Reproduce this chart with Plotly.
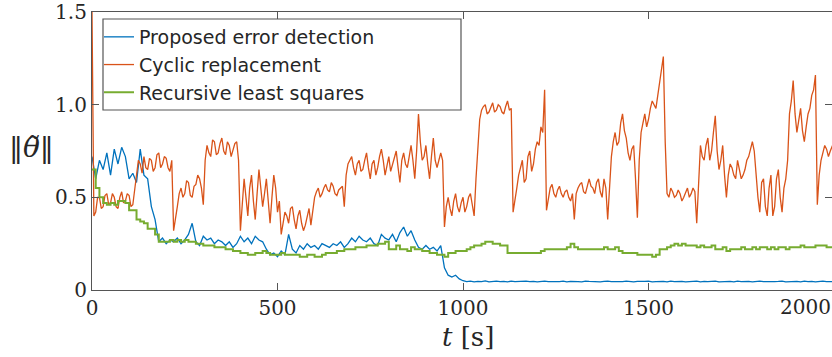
import plotly.graph_objects as go

# time axes [s]
t = list(range(0, 2001, 10))       # 10 s sampling (proposed, RLS)
t_fine = list(range(0, 2001, 5))   # 5 s sampling (cyclic replacement)

# Proposed error detection
proposed = [
    0.72, 0.60, 0.70, 0.65, 0.74, 0.62, 0.76, 0.68, 0.77, 0.72,
    0.60, 0.63, 0.58, 0.76, 0.62, 0.60, 0.45, 0.38, 0.26, 0.28,
    0.25, 0.27, 0.26, 0.28, 0.25, 0.27, 0.30, 0.36, 0.26, 0.24,
    0.29, 0.27, 0.28, 0.25, 0.27, 0.26, 0.24, 0.26, 0.23, 0.25,
    0.29, 0.26, 0.28, 0.25, 0.29, 0.27, 0.26, 0.22, 0.19, 0.20,
    0.18, 0.21, 0.19, 0.30, 0.22, 0.20, 0.24, 0.22, 0.25, 0.23,
    0.24, 0.22, 0.25, 0.24, 0.23, 0.25, 0.24, 0.26, 0.23, 0.25,
    0.28, 0.26, 0.29, 0.27, 0.26, 0.28, 0.25, 0.24, 0.30, 0.28,
    0.27, 0.30, 0.26, 0.31, 0.34, 0.29, 0.32, 0.27, 0.23, 0.22,
    0.24, 0.22, 0.23, 0.21, 0.24, 0.12, 0.08, 0.07, 0.08, 0.06,
    0.050, 0.045, 0.048, 0.044, 0.047, 0.045, 0.049, 0.044, 0.046, 0.048,
    0.045, 0.047, 0.044, 0.048, 0.045, 0.046, 0.044, 0.048, 0.045, 0.047,
    0.044, 0.046, 0.048, 0.045, 0.044, 0.047, 0.045, 0.048, 0.044, 0.046,
    0.047, 0.045, 0.044, 0.048, 0.046, 0.045, 0.047, 0.044, 0.046, 0.048,
    0.045, 0.044, 0.047, 0.045, 0.048, 0.046, 0.044, 0.047, 0.045, 0.046,
    0.048, 0.044, 0.045, 0.047, 0.046, 0.044, 0.048, 0.045, 0.046, 0.047,
    0.044, 0.046, 0.045, 0.048, 0.044, 0.047, 0.045, 0.046, 0.048, 0.044,
    0.045, 0.047, 0.046, 0.044, 0.048, 0.045, 0.046, 0.047, 0.044, 0.046,
    0.048, 0.045, 0.044, 0.047, 0.045, 0.046, 0.048, 0.044, 0.045, 0.047,
    0.046, 0.044, 0.048, 0.045, 0.047, 0.044, 0.046, 0.048, 0.045, 0.046,
    0.045,
]

# Cyclic replacement (5 s sampling)
cyclic = [
    1.50,
    0.40, 0.42, 0.50, 0.50, 0.44, 0.45, 0.51, 0.52, 0.46, 0.47, 0.52, 0.50, 0.45, 0.44, 0.50, 0.53, 0.47, 0.48, 0.52, 0.51,
    0.45, 0.46, 0.55, 0.62, 0.70, 0.68, 0.63, 0.72, 0.66, 0.65, 0.71, 0.70, 0.64, 0.66, 0.73, 0.74, 0.66, 0.68, 0.72, 0.71,
    0.66, 0.64, 0.70, 0.32, 0.40, 0.45, 0.52, 0.55, 0.50, 0.52, 0.59, 0.58, 0.51, 0.50, 0.56, 0.57, 0.62, 0.60, 0.55, 0.46,
    0.70, 0.78, 0.74, 0.72, 0.81, 0.80, 0.73, 0.74, 0.79, 0.82, 0.75, 0.73, 0.80, 0.78, 0.72, 0.75, 0.79, 0.80, 0.70, 0.32,
    0.45, 0.60, 0.50, 0.40, 0.55, 0.62, 0.48, 0.38, 0.52, 0.65, 0.55, 0.45, 0.52, 0.60, 0.48, 0.36, 0.50, 0.62, 0.55, 0.42,
    0.48, 0.30, 0.36, 0.42, 0.40, 0.36, 0.44, 0.45, 0.38, 0.33, 0.40, 0.43, 0.36, 0.32, 0.35, 0.40, 0.44, 0.35, 0.42, 0.50,
    0.53, 0.55, 0.50, 0.52, 0.55, 0.57, 0.54, 0.53, 0.58, 0.56, 0.52, 0.51, 0.54, 0.55, 0.56, 0.45, 0.62, 0.68, 0.70, 0.72,
    0.66, 0.62, 0.68, 0.70, 0.64, 0.65, 0.70, 0.74, 0.66, 0.60, 0.68, 0.70, 0.62, 0.66, 0.72, 0.76, 0.70, 0.62, 0.67, 0.72,
    0.64, 0.68, 0.72, 0.75, 0.66, 0.58, 0.70, 0.74, 0.68, 0.66, 0.72, 0.78, 0.70, 0.60, 0.75, 0.95, 0.80, 0.70, 0.72, 0.78,
    0.68, 0.60, 0.72, 0.82, 0.70, 0.66, 0.70, 0.74, 0.70, 0.34, 0.45, 0.50, 0.44, 0.40, 0.48, 0.52, 0.45, 0.42, 0.47, 0.50,
    0.42, 0.45, 0.50, 0.52, 0.46, 0.40, 0.60, 0.80, 0.92, 0.97, 0.99, 1.00, 0.95, 0.96, 0.99, 1.01, 0.96, 0.97, 1.00, 0.99,
    0.96, 0.95, 0.99, 1.02, 0.97, 0.98, 0.42, 0.50, 0.55, 0.62, 0.66, 0.70, 0.58, 0.60, 0.72, 0.75, 0.64, 0.68, 0.76, 0.80,
    0.78, 0.88, 0.85, 1.08, 0.43, 0.50, 0.55, 0.57, 0.52, 0.50, 0.54, 0.56, 0.52, 0.50, 0.53, 0.54, 0.50, 0.48, 0.52, 0.38,
    0.52, 0.55, 0.57, 0.58, 0.53, 0.52, 0.57, 0.60, 0.56, 0.55, 0.52, 0.58, 0.60, 0.53, 0.50, 0.60, 0.55, 0.38, 0.55, 0.72,
    0.80, 0.85, 0.78, 0.80, 0.90, 0.95, 0.86, 0.82, 0.74, 0.70, 0.76, 0.78, 0.60, 0.39, 0.70, 0.85, 0.90, 0.95, 0.88, 0.92,
    0.98, 1.02, 1.00, 0.98, 1.05, 1.12, 1.18, 1.26, 0.80, 0.52, 0.50, 0.55, 0.53, 0.50, 0.51, 0.54, 0.52, 0.48, 0.50, 0.53,
    0.55, 0.50, 0.52, 0.55, 0.53, 0.36, 0.60, 0.78, 0.72, 0.70, 0.78, 0.82, 0.70, 0.75, 0.85, 0.94, 0.75, 0.65, 0.70, 0.78,
    0.62, 0.50, 0.62, 0.68, 0.66, 0.62, 0.60, 0.70, 0.65, 0.60, 0.62, 0.65, 0.70, 0.72, 0.76, 0.80, 0.75, 0.62, 0.50, 0.42,
    0.58, 0.60, 0.45, 0.40, 0.55, 0.62, 0.40, 0.45, 0.60, 0.65, 0.50, 0.42, 0.55, 0.60, 0.70, 0.95, 1.02, 1.13, 0.95, 0.85,
    0.92, 0.98, 0.86, 0.80, 0.88, 0.95, 0.98, 1.05, 1.08, 1.16, 0.46, 0.62, 0.70, 0.74, 0.78, 0.76, 0.72, 0.75, 0.78, 0.80,
]

# Recursive least squares
rls = [
    0.65, 0.55, 0.50, 0.47, 0.46, 0.47, 0.46, 0.48, 0.48, 0.47,
    0.43, 0.43, 0.38, 0.37, 0.36, 0.33, 0.33, 0.30, 0.26, 0.26,
    0.26, 0.27, 0.26, 0.27, 0.26, 0.27, 0.26, 0.26, 0.25, 0.25,
    0.24, 0.24, 0.24, 0.23, 0.23, 0.23, 0.22, 0.22, 0.21, 0.21,
    0.20, 0.20, 0.19, 0.19, 0.20, 0.20, 0.21, 0.20, 0.19, 0.19,
    0.19, 0.20, 0.19, 0.19, 0.19, 0.19, 0.18, 0.18, 0.19, 0.19,
    0.18, 0.18, 0.19, 0.20, 0.20, 0.20, 0.21, 0.21, 0.22, 0.22,
    0.22, 0.23, 0.23, 0.23, 0.24, 0.24, 0.24, 0.25, 0.25, 0.26,
    0.22, 0.22, 0.24, 0.22, 0.22, 0.21, 0.23, 0.22, 0.22, 0.21,
    0.21, 0.20, 0.20, 0.19, 0.19, 0.18, 0.20, 0.20, 0.21, 0.21,
    0.21, 0.22, 0.23, 0.24, 0.24, 0.25, 0.26, 0.26, 0.25, 0.25,
    0.24, 0.24, 0.20, 0.20, 0.20, 0.20, 0.20, 0.20, 0.20, 0.20,
    0.20, 0.21, 0.22, 0.22, 0.22, 0.22, 0.22, 0.22, 0.23, 0.25,
    0.23, 0.22, 0.22, 0.22, 0.22, 0.22, 0.22, 0.22, 0.23, 0.22,
    0.22, 0.23, 0.21, 0.20, 0.20, 0.20, 0.20, 0.19, 0.19, 0.19,
    0.19, 0.18, 0.19, 0.22, 0.22, 0.23, 0.24, 0.25, 0.24, 0.25,
    0.24, 0.24, 0.24, 0.23, 0.24, 0.23, 0.23, 0.24, 0.22, 0.22,
    0.23, 0.21, 0.22, 0.22, 0.22, 0.23, 0.22, 0.22, 0.23, 0.22,
    0.23, 0.23, 0.22, 0.23, 0.22, 0.23, 0.23, 0.22, 0.23, 0.23,
    0.23, 0.24, 0.23, 0.23, 0.23, 0.24, 0.24, 0.24, 0.23, 0.23,
    0.23,
]

series_names = ["Proposed error detection", "Cyclic replacement", "Recursive least squares"]
series_colors = ["#0072BD", "#D95319", "#77AC30"]

x_ticks = [0, 500, 1000, 1500]
y_ticks = [0, 0.5, 1.0, 1.5]
y_ticklabels = ["0", "0.5", "1.0", "1.5"]

W, H = 832, 357
ML, MT, MB = 92, 12, 67
PW = W - ML
PH = H - MT - MB
# plot spans 0..2000 over 742 px; window cuts at 832
px_per_s = 742 / 2000
x_max = PW / px_per_s


def px_to_paper_x(px):
    return (px - ML) / PW


def px_to_paper_y(py):
    return (H - MB - py) / PH


fig = go.Figure()
for name, xs, y, col, lw in zip(series_names, [t, t_fine, t], [proposed, cyclic, rls],
                                series_colors, [1.3, 1.3, 2.0]):
    fig.add_trace(go.Scatter(
        x=xs, y=y, mode="lines", name=name, legendgroup=name,
        line=dict(color=col, width=lw, shape="hv" if name.startswith("Recursive") else "linear"),
    ))

serif = "DejaVu Serif, Liberation Serif, serif"
tick_font = dict(family=serif, size=20, color="#262626")

# legend frame (MATLAB-style box, wider than the entries)
fig.add_shape(
    type="rect", xref="paper", yref="paper", layer="above",
    x0=px_to_paper_x(103), x1=px_to_paper_x(461),
    y0=px_to_paper_y(110), y1=px_to_paper_y(19),
    line=dict(color="#555555", width=1.2), fillcolor="white",
)

fig.update_layout(
    width=W, height=H,
    margin=dict(l=ML, r=0, t=MT, b=MB),
    paper_bgcolor="white", plot_bgcolor="white",
    showlegend=True,
    legend=dict(
        x=px_to_paper_x(99), y=px_to_paper_y(18), xanchor="left", yanchor="top",
        bgcolor="rgba(0,0,0,0)", borderwidth=0,
        font=dict(family="DejaVu Sans, sans-serif", size=19, color="#262626"),
        tracegroupgap=0, itemwidth=30,
    ),
    xaxis=dict(
        range=[0, x_max], tickvals=x_ticks, ticks="inside", ticklen=7,
        tickcolor="#555555", showline=True, linecolor="#555555", linewidth=1.2,
        mirror="ticks", showgrid=False, zeroline=False, tickfont=tick_font,
    ),
    yaxis=dict(
        range=[0, 1.5], tickvals=y_ticks, ticktext=y_ticklabels, ticks="inside", ticklen=7,
        tickcolor="#555555", showline=True, linecolor="#555555", linewidth=1.2,
        mirror="ticks", showgrid=False, zeroline=False, tickfont=tick_font,
    ),
)

# "2000" tick label near the right border
fig.add_annotation(
    x=px_to_paper_x(805), xref="paper", y=0, yref="paper", yshift=-3,
    text="2000", showarrow=False, xanchor="center", yanchor="top",
    font=tick_font,
)
# axis titles
fig.add_annotation(
    x=px_to_paper_x(468), xref="paper", y=0, yref="paper", yshift=-30,
    text="<i>t</i> [s]", showarrow=False, xanchor="center", yanchor="top",
    font=dict(family=serif, size=26, color="#262626"),
)
fig.add_annotation(
    x=px_to_paper_x(31), xref="paper", y=px_to_paper_y(147), yref="paper",
    text="‖<i>θ̃</i>‖", showarrow=False, xanchor="center", yanchor="middle",
    font=dict(family=serif, size=28, color="#262626"),
)

fig.write_html("out.html")
